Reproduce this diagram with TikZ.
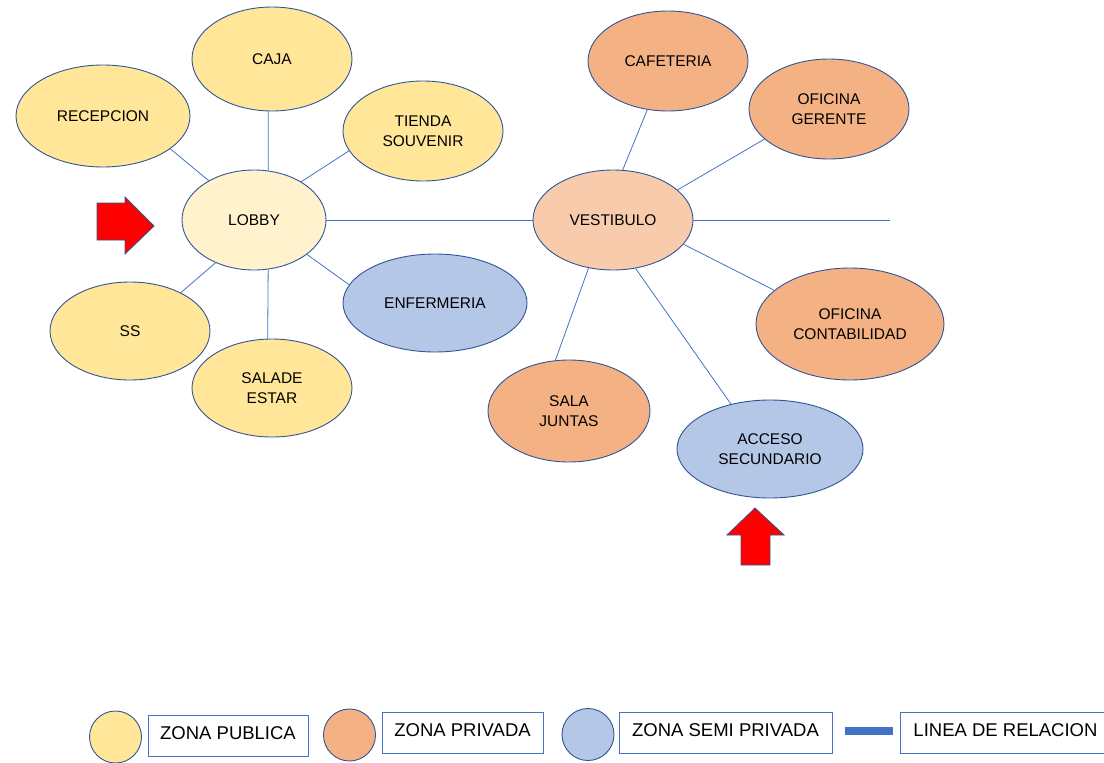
\documentclass[tikz,border=0pt]{standalone}
\usepackage{fontspec}
\setmainfont{Liberation Sans}
\usetikzlibrary{shapes.geometric}
\definecolor{pubfill}{HTML}{FFE699}
\definecolor{lobbyfill}{HTML}{FFF2CC}
\definecolor{privfill}{HTML}{F4B183}
\definecolor{vestfill}{HTML}{F8CBAD}
\definecolor{semifill}{HTML}{B4C7E7}
\definecolor{edgeblue}{HTML}{2F5597}
\definecolor{linkblue}{HTML}{4472C4}
\tikzset{
  zone/.style={ellipse, draw=edgeblue, line width=0.9pt, inner sep=0pt, align=center,
     font=\fontsize{15.5}{20}\selectfont},
  pub/.style={zone, fill=pubfill},
  priv/.style={zone, fill=privfill},
  semi/.style={zone, fill=semifill},
  link/.style={draw=linkblue, line width=0.8pt},
  redarrow/.style={fill=red, draw=edgeblue, line width=0.8pt, line join=miter},
  legbox/.style={draw=linkblue, line width=0.9pt, inner sep=0pt, text height=13.2pt, text depth=6pt,
     font=\fontsize{18.5}{20}\selectfont},
  legdot/.style={circle, draw=edgeblue, line width=0.9pt, minimum size=52pt, inner sep=0pt}
}
\begin{document}
\begin{tikzpicture}[x=1pt,y=-1pt]
\useasboundingbox (0,0) rectangle (1104,763);
% public zone
\node[pub, minimum width=160pt, minimum height=104pt] (caja) at (272,59) {CAJA};
\node[pub, minimum width=174pt, minimum height=102pt] (recep) at (103,116) {RECEPCION};
\node[pub, minimum width=160pt, minimum height=100pt] (tienda) at (423,131) {TIENDA\\SOUVENIR};
\node[zone, fill=lobbyfill, minimum width=144pt, minimum height=100pt] (lobby) at (254,220) {LOBBY};
\node[pub, minimum width=160pt, minimum height=98pt] (ss) at (130,331) {SS};
\node[pub, minimum width=160pt, minimum height=98pt] (sala) at (272,388) {SALADE\\ESTAR};
\node[semi, minimum width=184pt, minimum height=98pt] (enf) at (435,303) {ENFERMERIA};
% private zone
\node[priv, minimum width=160pt, minimum height=100pt] (cafe) at (668,61) {CAFETERIA};
\node[priv, minimum width=160pt, minimum height=100pt] (ger) at (829,109) {OFICINA\\GERENTE};
\node[zone, fill=vestfill, minimum width=160pt, minimum height=100pt] (vest) at (613,220) {VESTIBULO};
\node[priv, minimum width=188pt, minimum height=112pt] (cont) at (850,324) {OFICINA\\CONTABILIDAD};
\node[priv, minimum width=162pt, minimum height=102pt] (junt) at (569,411) {SALA\\JUNTAS};
\node[semi, minimum width=186pt, minimum height=98pt] (acc) at (770,449) {ACCESO\\SECUNDARIO};
\coordinate (vend) at (890,220);
% connectors
\draw[link] (lobby.74) -- (caja.266);
\draw[link] (lobby.139) -- (recep.-26);
\draw[link] (lobby.39) -- (tienda.195);
\draw[link] (lobby.228) -- (ss.37);
\draw[link] (lobby.286) -- (sala.95);
\draw[link] (lobby.-33) -- (enf.168);
\draw[link] (lobby.east) -- (vest.west);
\draw[link] (vest.east) -- (vend);
\draw[link] (vest.79) -- (cafe.247);
\draw[link] (vest.25) -- (ger.205);
\draw[link] (vest.-19) -- (cont.156);
\draw[link] (vest.243) -- (junt.105);
\draw[link] (vest.295) -- (acc.131);
% red arrows
\draw[redarrow] (97,203) -- (125,203) -- (125,197) -- (154,226) -- (125,254) -- (125,240) -- (97,240) -- cycle;
\draw[redarrow] (755,508) -- (784,535) -- (770,535) -- (770,565) -- (741,565) -- (741,535) -- (727,535) -- cycle;
% legend
\node[legdot, fill=pubfill] (d1) at (115.5,737) {};
\node[legbox, minimum width=160pt, minimum height=41pt] (b1) at (228,735.5) {ZONA PUBLICA};
\node[legdot, fill=privfill] (d2) at (349.5,735) {};
\node[legbox, minimum width=161pt, minimum height=41pt] (b2) at (462.5,732.5) {ZONA PRIVADA};
\node[legdot, fill=semifill] (d3) at (588,734.5) {};
\node[legbox, minimum width=213pt, minimum height=41pt] (b3) at (725.5,732.5) {ZONA SEMI PRIVADA};
\coordinate (l1) at (845,731);
\coordinate (l2) at (893,731);
\draw[linkblue, line width=7.5pt] (l1) -- (l2);
\node[legbox, minimum width=210pt, minimum height=41pt] (b4) at (1005.5,732.5) {LINEA DE RELACION};
\end{tikzpicture}
\end{document}
